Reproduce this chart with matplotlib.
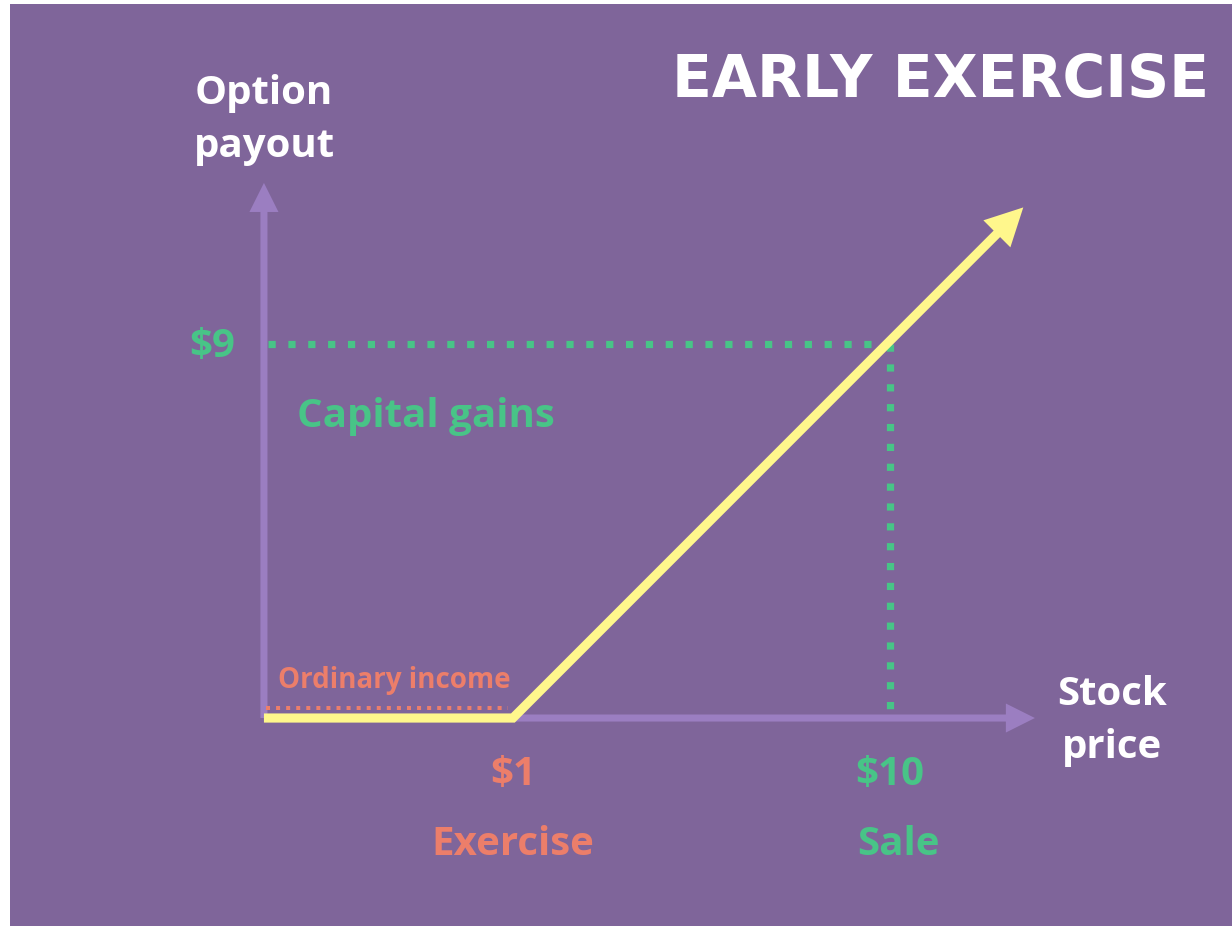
import numpy as np
import matplotlib
matplotlib.use("Agg")
import matplotlib.pyplot as plt

# schematic payoff diagram (one unit = one dollar of payout on the y axis)
stock_pts = [0, 6.0, 18.3]       # positions along the stock price axis
payout_pts = [0, 0, 12.3]        # option payout at those positions
exercise_pos = 6.0               # where "$1" sits on the price axis
sale_pos = 15.08                 # where "$10" sits on the price axis
gain_level = 9                   # "$9" payout level
income_level = 0.25              # thin band for ordinary income
x_axis_end = 18.58
y_axis_end = 12.89

price_labels = ["$1", "$10"]
event_labels = ["Exercise", "Sale"]

bg = "#7F659A"
axis_c = "#9B7EC1"
yellow = "#FFF78C"
green = "#48C487"
orange = "#EC7E6A"
white = "#FFFFFF"
font = "Open Sans"

fig = plt.figure(figsize=(12.32, 9.26), dpi=100, facecolor="white")
ax = fig.add_axes([10 / 1232, 0, 1222 / 1232, 922 / 926])
ax.set_facecolor(bg)
ax.set_xlim(-6.12, 23.33)
ax.set_ylim(-5.01, 17.2)
for s in ax.spines.values():
    s.set_visible(False)
ax.set_xticks([])
ax.set_yticks([])

# axes with arrow heads
ax.arrow(0, 0, x_axis_end, 0, width=0.17, head_width=0.70, head_length=0.70,
         length_includes_head=True, color=axis_c, lw=0, zorder=1)
ax.arrow(0, 0, 0, y_axis_end, width=0.17, head_width=0.70, head_length=0.70,
         length_includes_head=True, color=axis_c, lw=0, zorder=1)

# dotted guide lines
dots = dict(color=green, lw=5.2, linestyle=(0, (1, 1.75)), dash_capstyle="butt", zorder=2)
ax.plot([0.1, sale_pos + 0.09], [gain_level, gain_level], **dots)
ax.plot([sale_pos, sale_pos], [gain_level, 0], **dots)
ax.plot([0.05, 5.88], [income_level, income_level], color=orange,
        lw=2.9, linestyle=(0, (1, 1.5)), dash_capstyle="butt", zorder=2)

# payoff line with arrow head
tip = np.array([stock_pts[-1], payout_pts[-1]])
corner = np.array([stock_pts[1], payout_pts[1]])
d = (tip - corner) / np.linalg.norm(tip - corner)
head_len = 0.9
line_end = tip - d * head_len * 0.6
ax.plot(stock_pts[:-1] + [line_end[0]], payout_pts[:-1] + [line_end[1]],
        color=yellow, lw=6.6, solid_joinstyle="miter", solid_capstyle="butt", zorder=3)
start = tip - d * head_len
ax.arrow(start[0], start[1], d[0] * head_len, d[1] * head_len, width=0.01,
         head_width=0.92, head_length=head_len, length_includes_head=True,
         color=yellow, lw=0, zorder=3)

# text
ax.text(16.3, 14.96, "EARLY EXERCISE", color=white, fontsize=42, fontweight="bold",
        family="DejaVu Sans", ha="center", va="baseline")
ax.text(0, 14.8, "Option", color=white, fontsize=29, fontweight="bold",
        family=font, ha="center", va="baseline")
ax.text(0, 13.52, "payout", color=white, fontsize=29, fontweight="bold",
        family=font, ha="center", va="baseline")
ax.text(20.43, 0.31, "Stock", color=white, fontsize=29, fontweight="bold",
        family=font, ha="center", va="baseline")
ax.text(20.43, -0.96, "price", color=white, fontsize=29, fontweight="bold",
        family=font, ha="center", va="baseline")

ax.text(-0.7, gain_level - 0.3, "$" + str(gain_level), color=green, fontsize=29,
        fontweight="bold", family=font, ha="right", va="baseline")
ax.text(0.8, 7.0, "Capital gains", color=green, fontsize=29, fontweight="bold",
        family=font, ha="left", va="baseline")
ax.text(0.34, 0.72, "Ordinary income", color=orange, fontsize=20, fontweight="bold",
        family=font, ha="left", va="baseline")

label_cols = [orange, green]
for pos, pl, el, c in zip([exercise_pos, sale_pos], price_labels, event_labels, label_cols):
    ax.text(pos, -1.62, pl, color=c, fontsize=29, fontweight="bold",
            family=font, ha="center", va="baseline")
    ax.text(pos + (0.2 if el == "Sale" else 0), -3.3, el, color=c, fontsize=29,
            fontweight="bold", family=font, ha="center", va="baseline")

fig.savefig("out.png", dpi=100, facecolor="white")
